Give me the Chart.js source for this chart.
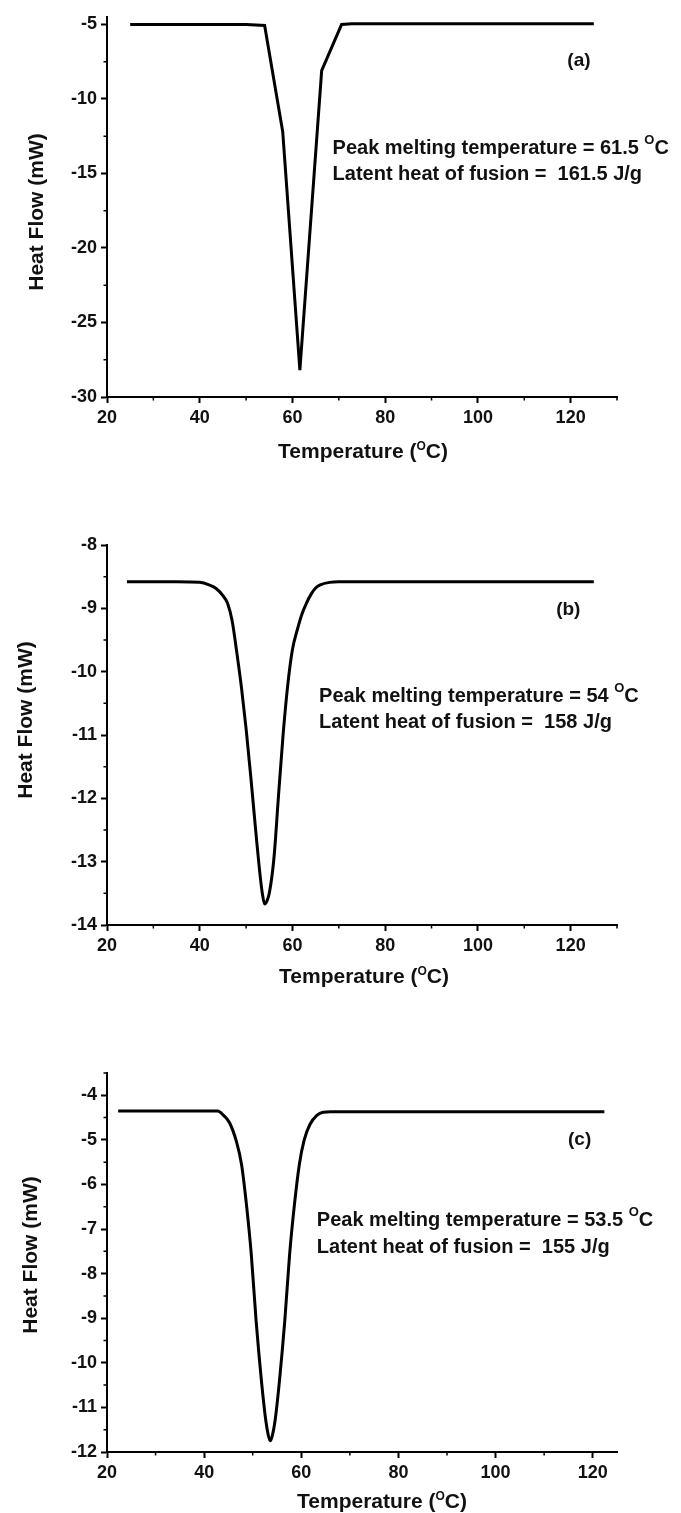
<!DOCTYPE html>
<html>
<head>
<meta charset="utf-8">
<script src="https://cdn.jsdelivr.net/npm/chart.js@4"></script>
<style>
  html, body { margin: 0; padding: 0; background: #fff; }
  body { width: 681px; height: 1513px; position: relative; overflow: hidden; }
  .panel { position: absolute; left: 0; width: 681px; }
</style>
</head>
<body>
<div class="panel" style="top:0px;height:480px"><canvas id="chartA"></canvas></div>
<div class="panel" style="top:500px;height:500px"><canvas id="chartB"></canvas></div>
<div class="panel" style="top:1030px;height:483px"><canvas id="chartC"></canvas></div>
<script>
// (a) DSC curve
const tempA = [25, 50, 54, 57.9, 61.6, 66.3, 70.6, 72.8, 125];
const heatA = [-5.0, -5.0, -5.07, -12.2, -28.2, -8.1, -5.0, -4.95, -4.95];
const xTicksA = [20, 40, 60, 80, 100, 120];
const xMinorA = [30, 50, 70, 90, 110, 130];
const yTicksA = [-30, -25, -20, -15, -10, -5];
const yMinorA = [-27.5, -22.5, -17.5, -12.5, -7.5];

// (b) DSC curve
const tempB = [24.3, 30, 35, 40, 42, 43.6, 45, 46, 47, 48, 49, 50, 51, 52, 53, 53.5, 54, 54.5, 55, 56,
               57, 58, 59, 60, 61, 62, 63, 64, 65, 66, 68, 70, 80, 90, 100, 110, 125];
const heatB = [-8.58, -8.58, -8.58, -8.59, -8.63, -8.69, -8.80, -8.92, -9.20, -9.70,
               -10.25, -10.90, -11.65, -12.45, -13.20, -13.50, -13.67, -13.62, -13.50, -12.95,
               -11.95, -10.98, -10.20, -9.65, -9.35, -9.10, -8.92, -8.78, -8.68, -8.63,
               -8.59, -8.58, -8.58, -8.58, -8.58, -8.58, -8.58];
const xTicksB = [20, 40, 60, 80, 100, 120];
const xMinorB = [30, 50, 70, 90, 110, 130];
const yTicksB = [-14, -13, -12, -11, -10, -9, -8];
const yMinorB = [-13.5, -12.5, -11.5, -10.5, -9.5, -8.5];

// (c) DSC curve
const tempC = [22.3, 30, 40, 42.8, 44, 45.2, 46.6, 47.7, 48.7, 49.7,
               50.7, 51.8, 52.7, 53.2, 53.6, 54.0, 54.6, 55.5, 56.6, 57.6,
               58.6, 59.6, 60.6, 61.8, 63.2, 64.5, 66, 80, 100, 122.4];
const heatC = [-4.35, -4.35, -4.35, -4.35, -4.45, -4.61, -5.02, -5.55, -6.44, -7.56,
               -9.06, -10.41, -11.30, -11.62, -11.75, -11.65, -11.30, -10.41, -9.06, -7.56,
               -6.44, -5.55, -5.00, -4.65, -4.45, -4.38, -4.37, -4.37, -4.37, -4.37];
const xTicksC = [20, 40, 60, 80, 100, 120];
const xMinorC = [30, 50, 70, 90, 110];
const yTicksC = [-12, -11, -10, -9, -8, -7, -6, -5, -4];
const yMinorC = [-11.5, -10.5, -9.5, -8.5, -7.5, -6.5, -5.5, -4.5, -3.5];

const FONT = "'Liberation Sans', Arial, sans-serif";

const panels = [
  {
    canvas: 'chartA', temp: tempA, heat: heatA, smooth: false,
    xMin: 20, xMax: 130, yMin: -30, yMax: -4.5,
    xTicks: xTicksA, xMinor: xMinorA, yTicks: yTicksA, yMinor: yMinorA,
    plotTop: 17, xAxisHeight: 83,
    tag: '(a)', tagAt: [121.8, -7.47],
    peak: '61.5', latent: '161.5', textAt: [68.65, -13.67, -15.42],
    xTitleDx: 1, xTitleBase: 61, yTitleBase: 43, yTitleDy: 195
  },
  {
    canvas: 'chartB', temp: tempB, heat: heatB, smooth: true,
    xMin: 20, xMax: 130, yMin: -14, yMax: -8,
    xTicks: xTicksB, xMinor: xMinorB, yTicks: yTicksB, yMinor: yMinorB,
    plotTop: 45, xAxisHeight: 75,
    tag: '(b)', tagAt: [119.5, -9.03],
    peak: '54', latent: '158', textAt: [65.75, -10.48, -10.89],
    xTitleDx: 2, xTitleBase: 58, yTitleBase: 32, yTitleDy: 175
  },
  {
    canvas: 'chartC', temp: tempC, heat: heatC, smooth: true,
    xMin: 20, xMax: 125, yMin: -12, yMax: -3.5,
    xTicks: xTicksC, xMinor: xMinorC, yTicks: yTicksC, yMinor: yMinorC,
    plotTop: 43, xAxisHeight: 61,
    tag: '(c)', tagAt: [117.3, -4.99],
    peak: '53.5', latent: '155', textAt: [63.2, -6.93, -7.53],
    xTitleDx: 20, xTitleBase: 56, yTitleBase: 37, yTitleDy: 182
  }
];

// draw a run of text pieces [text, size, rise] starting at x on baseline y
function drawRich(ctx, x, y, pieces, align) {
  let total = 0;
  pieces.forEach(([t, size]) => {
    ctx.font = `bold ${size}px ${FONT}`;
    total += ctx.measureText(t).width;
  });
  let cx = align === 'center' ? x - total / 2 : x;
  pieces.forEach(([t, size, rise]) => {
    ctx.font = `bold ${size}px ${FONT}`;
    ctx.fillText(t, cx, y - (rise || 0));
    cx += ctx.measureText(t).width;
  });
}

function makeDecor(p) {
  return {
    id: 'decor',
    afterDraw(chart) {
      const { ctx, chartArea } = chart;
      const xs = chart.scales.x, ys = chart.scales.y;
      ctx.save();

      // minor ticks
      ctx.strokeStyle = '#000';
      ctx.lineWidth = 1.5;
      ctx.beginPath();
      p.xMinor.forEach(v => {
        const px = xs.getPixelForValue(v);
        ctx.moveTo(px, chartArea.bottom);
        ctx.lineTo(px, chartArea.bottom + 3.5);
      });
      p.yMinor.forEach(v => {
        const py = ys.getPixelForValue(v);
        ctx.moveTo(chartArea.left - 3.5, py);
        ctx.lineTo(chartArea.left, py);
      });
      ctx.stroke();

      ctx.fillStyle = '#111';
      ctx.textBaseline = 'alphabetic';
      ctx.textAlign = 'left';

      // x axis title with superscript O
      const midX = (chartArea.left + chartArea.right) / 2 + p.xTitleDx;
      drawRich(ctx, midX, chartArea.bottom + p.xTitleBase,
        [['Temperature (', 21, 0], ['O', 12, 8], ['C)', 21, 0]], 'center');

      // y axis title
      ctx.save();
      ctx.translate(p.yTitleBase, chartArea.top + p.yTitleDy);
      ctx.rotate(-Math.PI / 2);
      ctx.textAlign = 'center';
      ctx.font = `bold 21px ${FONT}`;
      ctx.fillText('Heat Flow (mW)', 0, 0);
      ctx.restore();

      // panel tag
      ctx.textAlign = 'center';
      ctx.textBaseline = 'middle';
      ctx.font = `bold 19px ${FONT}`;
      ctx.fillText(p.tag, xs.getPixelForValue(p.tagAt[0]), ys.getPixelForValue(p.tagAt[1]));

      // annotation
      ctx.textAlign = 'left';
      ctx.textBaseline = 'alphabetic';
      const tx = xs.getPixelForValue(p.textAt[0]);
      drawRich(ctx, tx, ys.getPixelForValue(p.textAt[1]),
        [['Peak melting temperature = ' + p.peak + ' ', 20, 0], ['O', 13, 10], ['C', 20, 0]], 'left');
      drawRich(ctx, tx, ys.getPixelForValue(p.textAt[2]),
        [['Latent heat of fusion =  ' + p.latent + ' J/g', 20, 0]], 'left');

      ctx.restore();
    }
  };
}

panels.forEach(p => {
  const axisTicks = {
    color: '#111',
    font: { family: FONT, size: 18, weight: 'bold' },
    padding: 4,
    autoSkip: false,
    maxRotation: 0,
    callback: v => String(v)
  };
  const axisGrid = {
    drawOnChartArea: false,
    drawTicks: true,
    tickLength: 6,
    tickWidth: 2,
    tickColor: '#000'
  };

  new Chart(document.getElementById(p.canvas), {
    type: 'line',
    data: {
      datasets: [{
        data: p.temp.map((t, i) => ({ x: t, y: p.heat[i] })),
        borderColor: '#000',
        borderWidth: 3,
        pointRadius: 0,
        fill: false,
        tension: 0,
        cubicInterpolationMode: p.smooth ? 'monotone' : 'default'
      }]
    },
    options: {
      responsive: true,
      maintainAspectRatio: false,
      animation: false,
      layout: { padding: { left: 0, right: 64, top: p.plotTop, bottom: 0 } },
      plugins: {
        legend: { display: false },
        tooltip: { enabled: false }
      },
      scales: {
        x: {
          type: 'linear',
          min: p.xMin,
          max: p.xMax,
          afterBuildTicks: s => { s.ticks = p.xTicks.map(v => ({ value: v })); },
          afterFit: s => { s.height = p.xAxisHeight; },
          border: { color: '#000', width: 2 },
          grid: axisGrid,
          ticks: axisTicks
        },
        y: {
          type: 'linear',
          min: p.yMin,
          max: p.yMax,
          afterBuildTicks: s => { s.ticks = p.yTicks.map(v => ({ value: v })); },
          afterFit: s => { s.width = 107; },
          border: { color: '#000', width: 2 },
          grid: axisGrid,
          ticks: axisTicks
        }
      }
    },
    plugins: [makeDecor(p)]
  });
});
</script>
</body>
</html>
